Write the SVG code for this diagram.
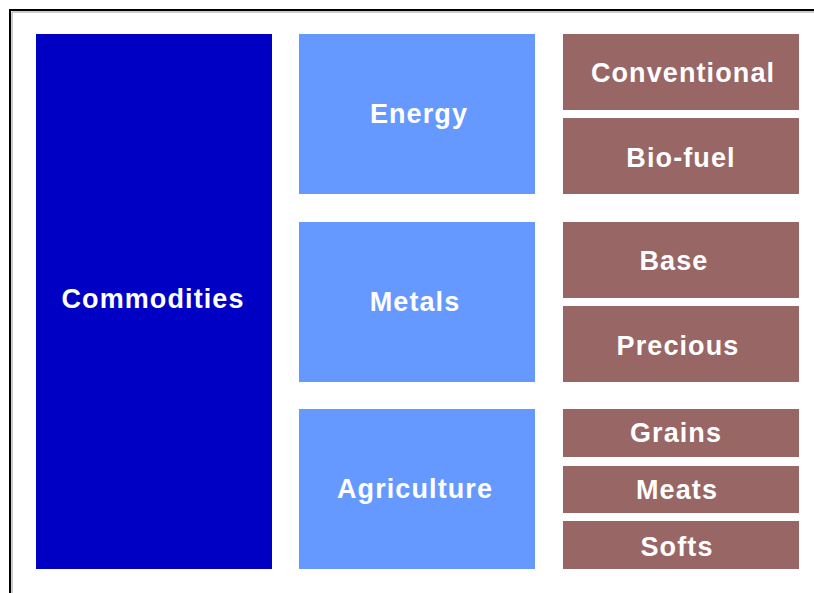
<svg xmlns="http://www.w3.org/2000/svg" width="814" height="593" viewBox="0 0 814 593">
<style>
.lbl{font-family:"Liberation Sans",Arial,sans-serif;font-weight:bold;font-size:27px;fill:#ffffff;text-anchor:middle;letter-spacing:1.1px}
.root{fill:#0000C4}
.cat{fill:#6699FF}
.sub{fill:#996666}
</style>
<rect x="0" y="0" width="814" height="593" fill="#ffffff"/>
<path d="M10 593 V10 H814" fill="none" stroke="#000000" stroke-width="2"/>
<path d="M12 593 V12 H814" fill="none" stroke="#999999" stroke-width="1"/>
<g id="connectors"></g>
<g id="commodities"><rect class="root" x="36" y="34" width="236" height="535"/><text class="lbl" x="153" y="308">Commodities</text></g>
<g id="energy"><rect class="cat" x="299" y="34" width="236" height="160"/><text class="lbl" x="419" y="123">Energy</text></g>
<g id="metals"><rect class="cat" x="299" y="222" width="236" height="160"/><text class="lbl" x="415" y="311">Metals</text></g>
<g id="agriculture"><rect class="cat" x="299" y="409" width="236" height="160"/><text class="lbl" x="415" y="498">Agriculture</text></g>
<g id="conventional"><rect class="sub" x="563" y="34" width="236" height="76"/><text class="lbl" x="683" y="82">Conventional</text></g>
<g id="biofuel"><rect class="sub" x="563" y="118" width="236" height="76"/><text class="lbl" x="681" y="167">Bio-fuel</text></g>
<g id="base"><rect class="sub" x="563" y="222" width="236" height="76"/><text class="lbl" x="674" y="270">Base</text></g>
<g id="precious"><rect class="sub" x="563" y="306" width="236" height="76"/><text class="lbl" x="678" y="355">Precious</text></g>
<g id="grains"><rect class="sub" x="563" y="409" width="236" height="48"/><text class="lbl" x="676" y="442">Grains</text></g>
<g id="meats"><rect class="sub" x="563" y="466" width="236" height="47"/><text class="lbl" x="677" y="499">Meats</text></g>
<g id="softs"><rect class="sub" x="563" y="521" width="236" height="48"/><text class="lbl" x="677" y="556">Softs</text></g>
</svg>
